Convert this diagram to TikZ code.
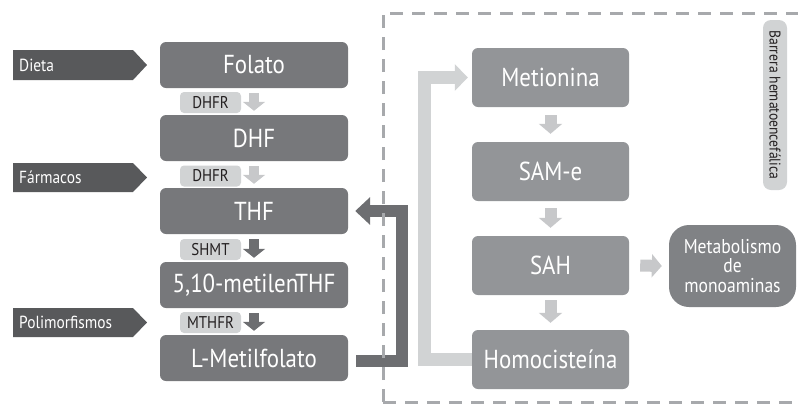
\documentclass[tikz,border=0pt]{standalone}
\usepackage{fontspec}
\setmainfont[FakeStretch=0.88]{PT Sans}
\usetikzlibrary{arrows.meta,calc}
\definecolor{boxL}{HTML}{77787B}
\definecolor{boxR}{HTML}{939598}
\definecolor{boxM}{HTML}{808285}
\definecolor{pent}{HTML}{58595B}
\definecolor{enz}{HTML}{D1D3D4}
\definecolor{arrL}{HTML}{C7C8CA}
\definecolor{arrD}{HTML}{6D6E71}
\definecolor{dashc}{HTML}{A7A9AC}
\definecolor{txtD}{HTML}{231F20}
\begin{document}
\begin{tikzpicture}[x=1pt,y=-1pt,
  lbox/.style={rounded corners=6pt, fill=boxL, text=white, minimum width=188pt, minimum height=46pt, inner sep=0pt, font=\fontsize{26}{30}\selectfont},
  rbox/.style={rounded corners=6pt, fill=boxR, text=white, minimum width=157pt, minimum height=59pt, inner sep=0pt, font=\fontsize{26}{30}\selectfont},
  enzbox/.style={rounded corners=4pt, fill=enz, text=txtD, minimum width=61pt, minimum height=21pt, inner sep=0pt, font=\fontsize{17}{19}\selectfont},
  pentlbl/.style={anchor=west, text=white, inner sep=0pt, font=\fontsize{17.5}{19}\selectfont},
  smarr/.style={draw=#1, line width=10pt, -{Triangle[width=22pt,length=9pt]}},
  rarr/.style={draw=arrL, line width=12pt, -{Triangle[width=23pt,length=10pt]}},
]
\useasboundingbox (0,0) rectangle (798,408);

% pentagon labels
\fill[pent] (13,50) -- (133,50) -- (147,65) -- (133,80) -- (13,80) -- cycle;
\node[pentlbl] (dieta) at (19,65) {Dieta};
\fill[pent] (13,163) -- (133,163) -- (147,177.5) -- (133,192) -- (13,192) -- cycle;
\node[pentlbl] (farm) at (19,177.5) {Fármacos};
\fill[pent] (13,308) -- (133,308) -- (147,322.5) -- (133,337) -- (13,337) -- cycle;
\node[pentlbl] (polim) at (19,322.5) {Polimorfismos};

% left boxes
\node[lbox] (folato) at (254,65) {Folato};
\node[lbox] (dhf) at (254,138) {DHF};
\node[lbox] (thf) at (254,211) {THF};
\node[lbox] (metilen) at (254,285) {5,10-metilenTHF};
\node[lbox] (lmet) at (254,358) {L-Metilfolato};

% enzymes
\node[enzbox] (e1) at (210.5,102.5) {DHFR};
\node[enzbox] (e2) at (210.5,176) {DHFR};
\node[enzbox] (e3) at (210.5,249.5) {SHMT};
\node[enzbox] (e4) at (210.5,322.5) {MTHFR};

% small arrows left
\draw[smarr=arrL] ([yshift=-5pt]folato.south) -- ([yshift=4pt]dhf.north);
\draw[smarr=arrL] ([yshift=-5pt]dhf.south) -- ([yshift=4pt]thf.north);
\draw[smarr=arrD] ([yshift=-5pt]thf.south) -- ([yshift=4pt]metilen.north);
\draw[smarr=arrD] ([yshift=-5pt]metilen.south) -- ([yshift=4pt]lmet.north);

% right boxes
\node[rbox] (met) at (550.5,77.5) {Metionina};
\node[rbox] (same) at (550.5,171.5) {SAM-e};
\node[rbox] (sah) at (550.5,265.5) {SAH};
\node[rbox] (homo) at (550.5,359.5) {Homocisteína};
\node[rounded corners=20pt, fill=boxM, text=white, minimum width=127pt, minimum height=82pt, inner sep=0pt, align=center, font=\fontsize{20}{19.5}\selectfont] (metab) at (732.5,266) {Metabolismo\\de\\monoaminas};

\draw[rarr] ([yshift=-8pt]met.south) -- ([yshift=8pt]same.north);
\draw[rarr] ([yshift=-7pt]same.south) -- ([yshift=8pt]sah.north);
\draw[rarr] ([yshift=-5pt]sah.south) -- ([yshift=7pt]homo.north);
\draw[rarr] ([xshift=11pt]sah.east) -- ([xshift=-7pt]metab.west);

% barrier label
\node[rounded corners=8pt, fill=enz, text=txtD, minimum width=170pt, minimum height=24pt, inner sep=0pt, rotate=-90, font=\fontsize{15.5}{18}\selectfont] (barrera) at (775,105) {Barrera hematoencefálica};

% connectors
\coordinate (dk) at (402,0);
\draw[arrD, line width=12pt, line join=miter, -{Triangle[width=27pt,length=15pt]}]
  ([xshift=8pt,yshift=-3pt]lmet.east) -- ([yshift=-3pt]lmet.east -| dk) -- (thf.east -| dk) -- ([xshift=7pt]thf.east);
\coordinate (lt) at (424,0);
\draw[enz, line width=13pt, line join=miter, -{Triangle[width=26pt,length=13pt]}]
  (homo.west) -- (homo.west -| lt) -- (met.west -| lt) -- ([xshift=-4pt]met.west);

% dashed border
\draw[dashc, line width=3pt, dash pattern=on 13pt off 9pt] (383,402) -- (383,13) -- (810,13);
\draw[dashc, line width=3pt, dash pattern=on 13pt off 9pt] (383,402) -- (810,402);
\end{tikzpicture}
\end{document}
